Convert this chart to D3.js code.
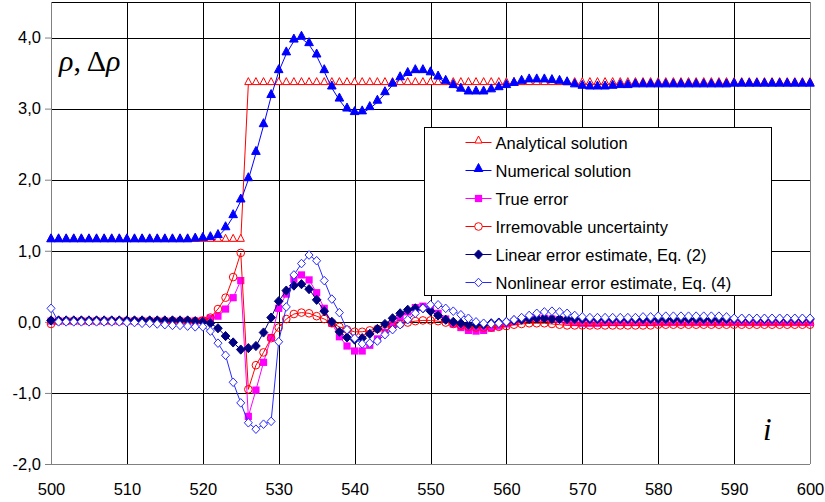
<!DOCTYPE html>
<html>
<head>
<meta charset="utf-8">
<script src="https://cdn.jsdelivr.net/npm/d3@7"></script>
<style>
  body { margin: 0; background: #fff; }
  text { font-family: "Liberation Sans", Arial, sans-serif; }
</style>
</head>
<body>
<script>
// index i = 500 .. 600
var steps = d3.range(500, 601);

var analytical = [
  1.14,1.14,1.14,1.14,1.14,1.14,1.14,1.14,1.14,1.14,
  1.14,1.14,1.14,1.14,1.14,1.14,1.14,1.14,1.14,1.14,
  1.14,1.14,1.14,1.14,1.14,1.14,3.345,3.345,3.345,3.345,
  3.345,3.345,3.345,3.345,3.345,3.345,3.345,3.345,3.345,3.345,
  3.345,3.345,3.345,3.345,3.345,3.345,3.345,3.345,3.345,3.345,
  3.345,3.345,3.345,3.345,3.345,3.345,3.345,3.345,3.345,3.345,
  3.345,3.345,3.345,3.345,3.345,3.345,3.345,3.345,3.345,3.345,
  3.345,3.345,3.345,3.345,3.345,3.345,3.345,3.345,3.345,3.345,
  3.345,3.345,3.345,3.345,3.345,3.345,3.345,3.345,3.345,3.345,
  3.345,3.345,3.345,3.345,3.345,3.345,3.345,3.345,3.345,3.345,
  3.345
];

var numerical = [
  1.14,1.14,1.14,1.14,1.14,1.14,1.14,1.14,1.14,1.14,
  1.14,1.14,1.14,1.14,1.14,1.14,1.14,1.14,1.14,1.15,
  1.16,1.17,1.20,1.31,1.48,1.70,2.00,2.37,2.76,3.17,
  3.52,3.77,3.95,3.99,3.90,3.74,3.52,3.29,3.12,2.98,
  2.93,2.94,3.00,3.09,3.21,3.33,3.42,3.48,3.52,3.52,
  3.49,3.43,3.37,3.31,3.26,3.22,3.22,3.22,3.25,3.28,
  3.31,3.34,3.37,3.39,3.39,3.39,3.38,3.37,3.35,3.32,
  3.30,3.29,3.29,3.29,3.30,3.31,3.31,3.32,3.32,3.32,
  3.32,3.32,3.32,3.32,3.32,3.32,3.32,3.32,3.32,3.32,
  3.33,3.33,3.33,3.33,3.33,3.33,3.33,3.33,3.33,3.33,
  3.33
];

var trueError = [
  0.01,0.01,0.01,0.01,0.01,0.01,0.01,0.01,0.01,0.01,
  0.01,0.01,0.01,0.01,0.01,0.01,0.01,0.01,0.01,0.01,
  0.02,0.05,0.08,0.18,0.34,0.58,-1.33,-0.96,-0.57,-0.22,
  0.19,0.39,0.60,0.66,0.59,0.41,0.19,-0.02,-0.21,-0.34,
  -0.41,-0.41,-0.33,-0.24,-0.15,-0.04,0.06,0.14,0.20,0.22,
  0.19,0.12,0.04,-0.03,-0.08,-0.12,-0.13,-0.12,-0.09,-0.06,
  -0.03,0.00,0.03,0.05,0.05,0.05,0.04,0.03,0.01,-0.01,
  -0.02,-0.02,-0.02,-0.01,-0.01,-0.01,-0.01,-0.01,-0.01,-0.01,
  -0.01,-0.01,-0.01,-0.01,-0.01,-0.01,-0.01,-0.01,-0.01,-0.01,
  -0.01,-0.01,-0.01,-0.01,-0.01,-0.01,-0.01,-0.01,-0.01,-0.01,
  -0.01
];

var irremovable = [
  -0.03,0.01,0.01,0.01,0.01,0.01,0.01,0.01,0.01,0.01,
  0.01,0.01,0.01,0.01,0.01,0.01,0.01,0.01,0.01,0.01,
  0.02,0.06,0.18,0.34,0.63,0.97,-0.95,-0.61,-0.43,-0.23,
  -0.08,0.04,0.11,0.13,0.12,0.08,0.04,-0.02,-0.07,-0.11,
  -0.14,-0.14,-0.12,-0.10,-0.08,-0.06,-0.03,-0.01,0.01,0.02,
  0.02,0.01,-0.01,-0.03,-0.05,-0.07,-0.08,-0.08,-0.08,-0.07,
  -0.06,-0.04,-0.03,-0.02,-0.02,-0.02,-0.03,-0.04,-0.05,-0.05,
  -0.05,-0.05,-0.05,-0.05,-0.05,-0.05,-0.05,-0.05,-0.05,-0.05,
  -0.04,-0.04,-0.04,-0.04,-0.04,-0.04,-0.04,-0.04,-0.04,-0.04,
  -0.04,-0.04,-0.04,-0.04,-0.04,-0.04,-0.04,-0.04,-0.04,-0.04,
  -0.04
];

var linearEst = [
  0.02,0.02,0.02,0.02,0.02,0.02,0.02,0.02,0.02,0.02,
  0.02,0.02,0.02,0.02,0.02,0.02,0.02,0.02,0.02,0.01,
  0.00,-0.02,-0.09,-0.20,-0.29,-0.39,-0.37,-0.34,-0.15,0.06,
  0.29,0.44,0.51,0.53,0.46,0.31,0.15,0.00,-0.14,-0.22,
  -0.25,-0.23,-0.17,-0.10,-0.03,0.05,0.12,0.17,0.19,0.19,
  0.15,0.09,0.03,0.00,-0.02,-0.04,-0.04,-0.04,-0.02,-0.01,
  0.00,0.02,0.03,0.04,0.05,0.05,0.04,0.04,0.04,0.04,
  0.04,0.04,0.04,0.04,0.04,0.04,0.04,0.04,0.04,0.04,
  0.04,0.04,0.04,0.04,0.04,0.04,0.04,0.04,0.04,0.04,
  0.04,0.04,0.04,0.04,0.04,0.04,0.04,0.04,0.04,0.04,
  0.04
];

var nonlinearEst = [
  0.19,0.00,0.00,0.00,0.00,0.00,0.00,0.00,0.00,0.00,
  -0.01,-0.01,-0.02,-0.02,-0.03,-0.04,-0.05,-0.05,-0.06,-0.07,
  -0.07,-0.13,-0.30,-0.47,-0.85,-1.14,-1.42,-1.51,-1.44,-1.40,
  -0.28,0.21,0.66,0.82,0.94,0.86,0.58,0.32,0.13,-0.11,
  -0.23,-0.31,-0.30,-0.27,-0.18,-0.11,-0.04,0.03,0.12,0.19,
  0.24,0.24,0.19,0.15,0.10,0.05,0.00,-0.02,-0.03,-0.02,
  0.00,0.03,0.06,0.09,0.12,0.14,0.15,0.14,0.12,0.09,
  0.07,0.06,0.06,0.06,0.06,0.06,0.06,0.06,0.07,0.07,
  0.08,0.08,0.08,0.08,0.08,0.08,0.08,0.08,0.08,0.07,
  0.05,0.05,0.05,0.05,0.05,0.05,0.05,0.05,0.05,0.05,
  0.05
];

var xTicks = [500,510,520,530,540,550,560,570,580,590,600];
var yTicks = [-2,-1,0,1,2,3,4];

var series = [
  {name: "Analytical solution", values: analytical, color: "#ff0000", marker: "triOpen"},
  {name: "Numerical solution", values: numerical, color: "#0000ff", marker: "triFill"},
  {name: "True error", values: trueError, color: "#ff00ff", marker: "square"},
  {name: "Irremovable uncertainty", values: irremovable, color: "#ff0000", marker: "circle"},
  {name: "Linear error estimate, Eq. (2)", values: linearEst, color: "#000080", marker: "diamondFill"},
  {name: "Nonlinear error estimate, Eq. (4)", values: nonlinearEst, color: "#2a2aff", marker: "diamondOpen"}
];

var W = 825, H = 502;
var margin = {top: 2, right: 15, bottom: 38, left: 51};
var width = W - margin.left - margin.right,
    height = H - margin.top - margin.bottom;

var svg = d3.select("body").append("svg")
    .attr("width", W)
    .attr("height", H);

var g = svg.append("g")
    .attr("transform", "translate(" + margin.left + "," + margin.top + ")");

var x = d3.scaleLinear().domain([500, 600]).range([0, width]);
var y = d3.scaleLinear().domain([-2, 4.5]).range([height, 0]);

// grid
g.append("g").selectAll("line")
  .data(xTicks.slice(1, -1))
  .enter().append("line")
    .attr("x1", function(d) { return Math.round(x(d)) + 0.5; })
    .attr("x2", function(d) { return Math.round(x(d)) + 0.5; })
    .attr("y1", 0).attr("y2", height)
    .style("stroke", "#000").style("stroke-width", 1);

g.append("g").selectAll("line")
  .data(yTicks.slice(1).concat([4.5]))
  .enter().append("line")
    .attr("x1", 0).attr("x2", width)
    .attr("y1", function(d) { return Math.round(y(d)) + 0.5; })
    .attr("y2", function(d) { return Math.round(y(d)) + 0.5; })
    .style("stroke", "#000").style("stroke-width", 1);

// border right
g.append("line")
  .attr("x1", Math.round(width) + 0.5).attr("x2", Math.round(width) + 0.5)
  .attr("y1", 0).attr("y2", height)
  .style("stroke", "#808080");

// axes
var yAxis = d3.axisLeft(y)
  .tickValues(yTicks)
  .tickSize(6)
  .tickFormat(function(d) { return d3.format(".1f")(d).replace(".", ",").replace("−", "-"); });

var xAxis = d3.axisBottom(x)
  .tickValues(xTicks)
  .tickSize(0)
  .tickFormat(d3.format("d"));

var gy = g.append("g").attr("class", "y axis").call(yAxis);
gy.select(".domain").attr("d", "M0.5," + y(4.5) + "V" + (Math.round(height) + 0.5)).style("stroke", "#808080");
gy.selectAll(".tick line").style("stroke", "#808080");
gy.selectAll("text").style("font-size", "16.5px").style("fill", "#000").attr("x", -10);

var gx = g.append("g").attr("class", "x axis")
  .attr("transform", "translate(0," + (Math.round(height) + 0.5) + ")")
  .call(xAxis);
gx.select(".domain").attr("d", "M0,0H" + width).style("stroke", "#808080");
gx.selectAll("text").style("font-size", "16.5px").style("fill", "#000").attr("y", 19);

// marker shapes
function markerPath(type) {
  switch (type) {
    case "triOpen": return "M0,-6.5L3.6,0.5L-3.6,0.5Z";
    case "triFill": return "M0,-7L4.3,1L-4.3,1Z";
    case "square": return "M-3.6,-3.6H3.6V3.6H-3.6Z";
    case "circle": return d3.symbol().type(d3.symbolCircle).size(46)();
    case "diamondFill": return "M0,-4.6L4.3,0L0,4.6L-4.3,0Z";
    case "diamondOpen": return "M0,-4.3L4,0L0,4.3L-4,0Z";
  }
}
function markerFill(s) {
  if (s.marker === "triOpen" || s.marker === "diamondOpen") return "#fff";
  if (s.marker === "circle") return "none";
  return s.color;
}
function markerStroke(s) {
  if (s.marker === "square") return "none";
  return s.color;
}

var line = d3.line()
  .x(function(d) { return x(d.i); })
  .y(function(d) { return y(d.v); });

series.forEach(function(s) {
  var pts = steps.map(function(i, k) { return {i: i, v: s.values[k]}; });
  var sg = g.append("g");
  sg.append("path")
    .datum(pts)
    .attr("d", line)
    .style("fill", "none")
    .style("stroke", s.color)
    .style("stroke-width", 1);
  sg.selectAll("path.m")
    .data(pts)
    .enter().append("path")
      .attr("class", "m")
      .attr("transform", function(d) { return "translate(" + x(d.i) + "," + y(d.v) + ")"; })
      .attr("d", markerPath(s.marker))
      .style("fill", markerFill(s))
      .style("stroke", markerStroke(s))
      .style("stroke-width", 1);
});

// legend
var lg = svg.append("g").attr("transform", "translate(424.5,127.5)");
lg.append("rect")
  .attr("width", 347).attr("height", 168)
  .style("fill", "#fff").style("stroke", "#000").style("stroke-width", 1);

var items = lg.selectAll("g.item")
  .data(series)
  .enter().append("g")
    .attr("class", "item")
    .attr("transform", function(d, k) { return "translate(0," + (15 + k * 28) + ")"; });

items.append("line")
  .attr("x1", 41).attr("x2", 67)
  .attr("y1", 0).attr("y2", 0)
  .style("stroke", function(d) { return d.color; });
items.append("path")
  .attr("transform", "translate(54,0)")
  .attr("d", function(d) { return markerPath(d.marker); })
  .style("fill", function(d) { return d.marker === "circle" ? "#fff" : markerFill(d); })
  .style("stroke", function(d) { return markerStroke(d); });
items.append("text")
  .attr("x", 71).attr("y", 6)
  .style("font-size", "16.5px")
  .text(function(d) { return d.name; });

// axis titles
var t1 = svg.append("text")
  .attr("x", 59).attr("y", 71)
  .style("font-family", "'Liberation Serif', 'Times New Roman', serif")
  .style("font-size", "30px");
t1.append("tspan").style("font-style", "italic").text("ρ");
t1.append("tspan").text(", Δ");
t1.append("tspan").style("font-style", "italic").text("ρ");

svg.append("text")
  .attr("x", 763).attr("y", 440)
  .style("font-family", "'Liberation Serif', 'Times New Roman', serif")
  .style("font-style", "italic")
  .style("font-size", "31px")
  .text("i");
</script>
</body>
</html>
